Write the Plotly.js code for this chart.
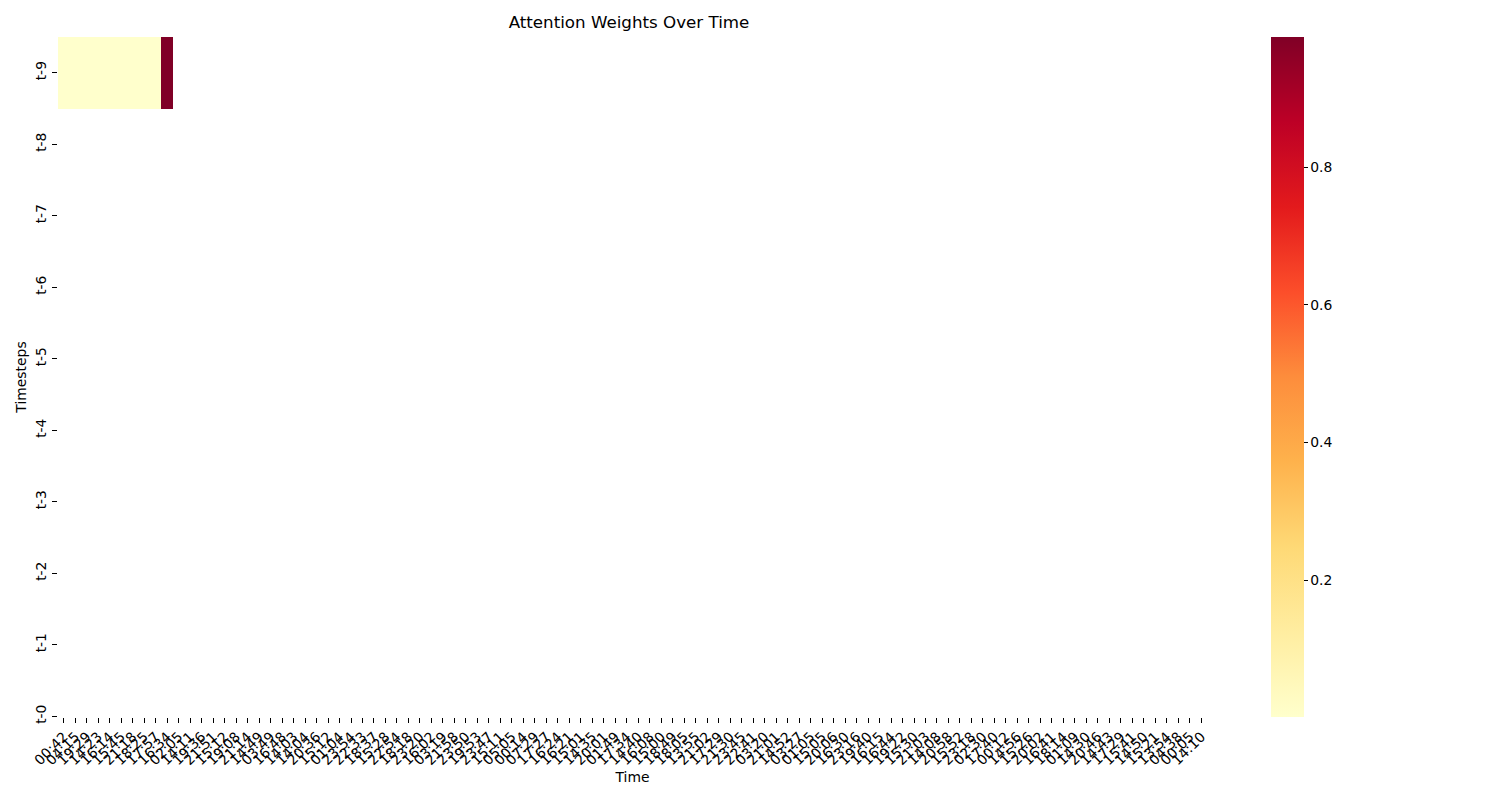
<!DOCTYPE html>
<html>
<head>
<meta charset="utf-8">
<script src="https://cdn.plot.ly/plotly-3.0.1.min.js"></script>
<style>
  html, body { margin: 0; padding: 0; background: #ffffff; }
  #chart { width: 1500px; height: 800px; }
</style>
</head>
<body>
<div id="chart"></div>
<script>
// Time labels along the x axis (one per column)
const timeLabels = [
  "00:42","04:15","19:29","14:23","16:14","15:45","21:18","18:25","17:57","16:34",
  "02:05","14:11","19:36","21:51","15:12","19:08","21:14","14:49","03:49","16:48",
  "14:03","14:04","20:36","15:12","01:04","23:54","22:33","18:37","15:28","22:54",
  "18:18","23:20","16:02","03:19","21:58","23:50","19:53","23:47","15:11","05:05",
  "00:14","07:29","17:27","16:24","16:21","15:01","14:35","20:01","01:49","17:34",
  "14:40","16:08","15:00","18:49","18:05","13:55","21:02","17:29","21:30","23:45",
  "22:41","03:20","21:01","14:52","03:27","01:05","15:05","20:06","16:30","23:16",
  "19:40","16:15","16:44","19:22","15:30","21:03","14:08","20:58","15:52","23:18",
  "02:30","17:40","00:12","14:56","15:26","20:02","16:41","18:14","01:09","14:30",
  "20:46","14:43","17:29","15:41","14:50","15:21","13:54","04:38","00:05","14:10"
];

// Timestep labels (top to bottom)
const stepLabels = ["t-9","t-8","t-7","t-6","t-5","t-4","t-3","t-2","t-1","t-0"];

// Attention weights present in the chart: only the t-9 row, first 10 columns
const weightsRowT9 = [0.0012, 0.0011, 0.0012, 0.0013, 0.0012, 0.0011, 0.0012, 0.0012, 0.0013, 0.9890];

// Colour scale range
const zMin = 0.001;
const zMax = 0.989;

// Build the z matrix (missing cells are null -> blank)
const z = stepLabels.map((s, r) =>
  timeLabels.map((t, c) => (r === 0 && c < weightsRowT9.length) ? weightsRowT9[c] : null)
);
const xIdx = timeLabels.map((_, i) => i);
const yIdx = stepLabels.map((_, i) => i);

const ylorrd = [
  [0.000, "#ffffcc"], [0.125, "#ffeda0"], [0.250, "#fed976"],
  [0.375, "#feb24c"], [0.500, "#fd8d3c"], [0.625, "#fc4e2a"],
  [0.750, "#e31a1c"], [0.875, "#bd0026"], [1.000, "#800026"]
];

const font = "DejaVu Sans, sans-serif";

const trace = {
  type: "heatmap",
  x: xIdx,
  y: yIdx,
  z: z,
  zmin: zMin,
  zmax: zMax,
  colorscale: ylorrd,
  hoverongaps: false,
  colorbar: {
    x: (1271 - 58) / 1149,
    xanchor: "left",
    y: 0.5,
    yanchor: "middle",
    len: 1,
    lenmode: "fraction",
    thickness: 33,
    thicknessmode: "pixels",
    outlinewidth: 0,
    ticks: "outside",
    ticklen: 4,
    tickwidth: 1,
    tickcolor: "#000",
    tickmode: "array",
    tickvals: [0.2, 0.4, 0.6, 0.8],
    ticktext: ["0.2", "0.4", "0.6", "0.8"],
    tickfont: { family: font, size: 13.9, color: "#000" },
    xpad: 0,
    ypad: 0
  }
};

const layout = {
  width: 1500,
  height: 800,
  margin: { l: 58, r: 293, t: 37, b: 83, pad: 0 },
  paper_bgcolor: "#ffffff",
  plot_bgcolor: "#ffffff",
  font: { family: font, size: 13.9, color: "#000" },
  title: {
    text: "Attention Weights Over Time",
    font: { family: font, size: 16.7, color: "#000" },
    x: 629 / 1500, xref: "container", xanchor: "center",
    y: 1 - 22 / 800, yref: "container", yanchor: "middle"
  },
  xaxis: {
    range: [-0.5, 99.5],
    tickmode: "array",
    tickvals: xIdx,
    ticktext: timeLabels,
    tickangle: -45,
    ticks: "outside",
    ticklen: 5,
    tickwidth: 1,
    tickcolor: "#000",
    showgrid: false,
    zeroline: false,
    showline: false,
    automargin: false,
    tickfont: { family: font, size: 13.9, color: "#000" },
    title: { text: "Time", font: { family: font, size: 13.9, color: "#000" }, standoff: 5 }
  },
  yaxis: {
    range: [9.01, -0.5],
    tickmode: "array",
    tickvals: yIdx,
    ticktext: stepLabels,
    tickangle: -90,
    ticks: "outside",
    ticklen: 5,
    tickwidth: 1,
    tickcolor: "#000",
    showgrid: false,
    zeroline: false,
    showline: false,
    automargin: false,
    tickfont: { family: font, size: 13.9, color: "#000" },
    title: { text: "Timesteps", font: { family: font, size: 13.9, color: "#000" }, standoff: 3 }
  }
};

Plotly.newPlot("chart", [trace], layout, { displayModeBar: false, staticPlot: true });
</script>
</body>
</html>
